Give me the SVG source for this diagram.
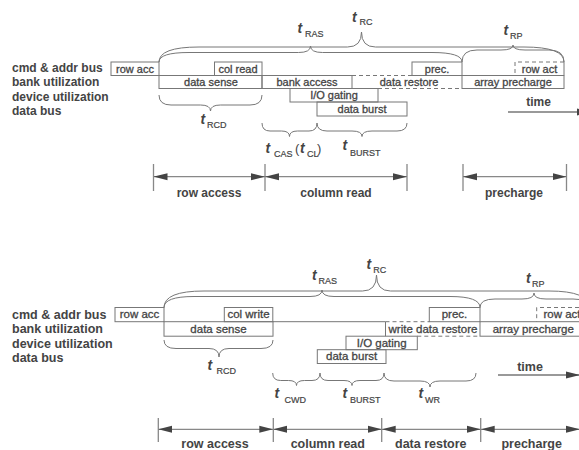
<svg xmlns="http://www.w3.org/2000/svg" width="579" height="450" viewBox="0 0 579 450">
  <defs>
    <style>
      .lbl { font-family: "Liberation Sans", Arial, sans-serif; font-weight: bold; font-size: 12px; fill: #444; }
      .lbl2 { font-family: "Liberation Sans", Arial, sans-serif; font-weight: bold; font-size: 12.5px; fill: #444; }
      .span { font-family: "Liberation Sans", Arial, sans-serif; font-weight: bold; font-size: 12px; fill: #444; text-anchor: middle; }
      .span2 { font-family: "Liberation Sans", Arial, sans-serif; font-weight: bold; font-size: 12.5px; fill: #444; text-anchor: middle; }
      .bt { font-family: "Liberation Sans", Arial, sans-serif; font-size: 11px; fill: #444; stroke: #444; stroke-width: 0.3; text-anchor: middle; }
      .bt2 { font-family: "Liberation Sans", Arial, sans-serif; font-size: 11.5px; fill: #444; stroke: #444; stroke-width: 0.3; text-anchor: middle; }
      .t { font-family: "Liberation Sans", Arial, sans-serif; font-weight: bold; font-style: italic; font-size: 14px; fill: #444; }
      .sub { font-family: "Liberation Sans", Arial, sans-serif; font-size: 9px; fill: #444; stroke: #444; stroke-width: 0.2; }
      .par { font-family: "Liberation Sans", Arial, sans-serif; font-size: 13px; fill: #444; }
      .box { fill: none; stroke: #777; stroke-width: 1; }
      .dash { fill: none; stroke: #777; stroke-width: 1; stroke-dasharray: 4 3; }
      .brace { fill: none; stroke: #777; stroke-width: 1; }
      .rule { fill: none; stroke: #888; stroke-width: 1.3; }
      .arr { fill: none; stroke: #888; stroke-width: 1.3; marker-start: url(#ah); marker-end: url(#ah); }
      .arr1 { fill: none; stroke: #777; stroke-width: 1.3; marker-end: url(#ah); }
    </style>
    <marker id="ah" viewBox="0 0 14 8" refX="14" refY="4" markerWidth="14" markerHeight="8" markerUnits="userSpaceOnUse" orient="auto-start-reverse">
      <path d="M0,0.5 L14,4 L0,7.5 Z" fill="#444"/>
    </marker>
  </defs>

  <!-- ===================== read cycle ===================== -->
  <g id="read-row-labels">
    <text class="lbl" x="12" y="71.5">cmd &amp; addr bus</text>
    <text class="lbl" x="12" y="86">bank utilization</text>
    <text class="lbl" x="12" y="100.5">device utilization</text>
    <text class="lbl" x="12" y="115">data bus</text>
  </g>

  <g id="read-row-acc">
    <rect class="box" x="111" y="62" width="48" height="13.5"/>
    <text class="bt" x="135" y="72.5">row acc</text>
  </g>
  <g id="read-col-read">
    <rect class="box" x="214.5" y="62" width="47.5" height="13.5"/>
    <text class="bt" x="238" y="72.5">col read</text>
  </g>
  <g id="read-prec">
    <rect class="box" x="412" y="62" width="50" height="13.5"/>
    <text class="bt" x="437" y="72.5">prec.</text>
  </g>
  <g id="read-row-act">
    <path class="dash" d="M564,62 H515 V75.5"/>
    <path class="box" d="M564,62 V75.5"/>
    <text class="bt" x="539.5" y="72.5">row act</text>
  </g>
  <g id="read-data-sense">
    <rect class="box" x="159" y="75.5" width="103" height="13"/>
    <text class="bt" x="211" y="85.5">data sense</text>
  </g>
  <g id="read-bank-access">
    <rect class="box" x="262" y="75.5" width="90" height="13"/>
    <text class="bt" x="307" y="85.5">bank access</text>
  </g>
  <g id="read-data-restore">
    <path class="dash" d="M352,75.5 H412 M378,88.5 H462"/>
    <text class="bt" x="409" y="85.5">data restore</text>
  </g>
  <g id="read-array-precharge">
    <rect class="box" x="462" y="75.5" width="102" height="13"/>
    <text class="bt" x="513" y="85.5">array precharge</text>
  </g>
  <g id="read-io-gating">
    <rect class="box" x="290" y="88.5" width="88" height="13.5"/>
    <text class="bt" x="334" y="99">I/O gating</text>
  </g>
  <g id="read-data-burst">
    <rect class="box" x="317" y="102" width="90" height="14"/>
    <text class="bt" x="362" y="112.5">data burst</text>
  </g>

  <g id="read-timing-braces">
    <!-- tRC -->
    <path class="brace" d="M159,62 Q159,47 199,47 L347.5,47 Q361.5,47 361.5,32 Q361.5,47 375.5,47 L524,47 Q564,47 564,62"/>
    <!-- tRAS -->
    <path class="brace" d="M159,62 Q159,52.5 189,52.5 L298.5,52.5 Q310.5,52.5 310.5,46 Q310.5,52.5 322.5,52.5 L432,52.5 Q462,52.5 462,62"/>
    <!-- tRP -->
    <path class="brace" d="M462,62 Q462,50 477,50 L501,50 Q513,50 513,45 Q513,50 525,50 L549,50 Q564,50 564,62"/>
    <!-- tRCD -->
    <path class="brace" d="M159,95 Q159,105 171,105 L200.5,105 Q210.5,105 210.5,111 Q210.5,105 220.5,105 L250,105 Q262,105 262,95"/>
    <!-- tCAS -->
    <path class="brace" d="M262,123 Q262,131 270,131 L281.5,131 Q289.5,131 289.5,136.5 Q289.5,131 297.5,131 L309,131 Q317,131 317,123"/>
    <!-- tBURST -->
    <path class="brace" d="M317,123 Q317,131 327,131 L352,131 Q362,131 362,136.5 Q362,131 372,131 L397,131 Q407,131 407,123"/>
  </g>

  <g id="read-timing-labels">
    <text class="t" x="352" y="21.5">t</text><text class="sub" x="359.5" y="24.5">RC</text>
    <text class="t" x="297.5" y="33">t</text><text class="sub" x="305" y="36.5">RAS</text>
    <text class="t" x="503.5" y="35">t</text><text class="sub" x="510" y="38.5">RP</text>
    <text class="t" x="200.5" y="124">t</text><text class="sub" x="207" y="128">RCD</text>
    <text class="t" x="265.5" y="153">t</text><text class="sub" x="274" y="156.5">CAS</text>
    <text class="par" x="295" y="153">(</text><text class="t" x="300" y="153">t</text><text class="sub" x="307" y="156.5">CL</text><text class="par" x="317" y="153">)</text>
    <text class="t" x="342.5" y="150">t</text><text class="sub" x="350" y="156">BURST</text>
  </g>

  <g id="read-time-axis">
    <text class="span" x="538.5" y="106">time</text>
    <line class="arr1" x1="508" y1="112" x2="591" y2="112"/>
  </g>

  <g id="read-phases">
    <path class="rule" d="M153.5,164 V191 M265,164 V191 M407,164 V191 M463,164 V191 M566.5,164 V191"/>
    <line class="arr" x1="153.5" y1="176.7" x2="265" y2="176.7"/>
    <line class="arr" x1="265" y1="176.7" x2="407" y2="176.7"/>
    <line class="arr" x1="463" y1="176.7" x2="566.5" y2="176.7"/>
    <text class="span" x="209" y="197">row access</text>
    <text class="span" x="336" y="197">column read</text>
    <text class="span" x="514" y="197">precharge</text>
  </g>

  <!-- ===================== write cycle ===================== -->
  <g id="write-row-labels">
    <text class="lbl2" x="12" y="318.5">cmd &amp; addr bus</text>
    <text class="lbl2" x="12" y="333">bank utilization</text>
    <text class="lbl2" x="12" y="347.5">device utilization</text>
    <text class="lbl2" x="12" y="362">data bus</text>
  </g>

  <g id="write-row-acc">
    <rect class="box" x="115" y="307.5" width="49" height="14.2"/>
    <text class="bt2" x="139.5" y="318.3">row acc</text>
  </g>
  <g id="write-col-write">
    <rect class="box" x="224.3" y="307.5" width="48.5" height="14.2"/>
    <text class="bt2" x="248.5" y="318.3">col write</text>
  </g>
  <g id="write-prec">
    <rect class="box" x="429.3" y="307.5" width="50.7" height="14.2"/>
    <text class="bt2" x="454.5" y="318.3">prec.</text>
  </g>
  <g id="write-row-act">
    <path class="dash" d="M600,307.5 H536.7 V321.7"/>
    <text class="bt2" x="543.5" y="318.3" style="text-anchor:start">row act</text>
  </g>
  <g id="write-data-sense">
    <rect class="box" x="164" y="321.7" width="109" height="14.5"/>
    <text class="bt2" x="218.5" y="332.7">data sense</text>
  </g>
  <g id="write-bank-idle">
    <path class="box" d="M273,321.7 H385.5"/>
  </g>
  <g id="write-data-restore">
    <path class="box" d="M385.5,321.7 V336.2"/>
    <path class="dash" d="M385.5,321.7 H429.3 M417.3,336.2 H480"/>
    <text class="bt2" x="433" y="332.7">write data restore</text>
  </g>
  <g id="write-array-precharge">
    <rect class="box" x="480" y="321.7" width="130" height="14.5"/>
    <text class="bt2" x="492.7" y="332.7" style="text-anchor:start">array precharge</text>
  </g>
  <g id="write-io-gating">
    <rect class="box" x="346" y="336.2" width="71.3" height="13.5"/>
    <text class="bt2" x="381.7" y="346.7">I/O gating</text>
  </g>
  <g id="write-data-burst">
    <rect class="box" x="317.3" y="349.7" width="68.7" height="13.8"/>
    <text class="bt2" x="351.6" y="360.2">data burst</text>
  </g>

  <g id="write-timing-braces">
    <!-- tRC -->
    <path class="brace" d="M164,307.5 Q164,291 204,291 L362.5,291 Q376.5,291 376.5,275 Q376.5,291 390.5,291 L549,291 Q589,291 589,307.5"/>
    <!-- tRAS -->
    <path class="brace" d="M164,307.5 Q164,296.5 194,296.5 L310,296.5 Q322,296.5 322,290 Q322,296.5 334,296.5 L450,296.5 Q480,296.5 480,307.5"/>
    <!-- tRP -->
    <path class="brace" d="M480,307.5 Q480,299 495,299 L522,299 Q534,299 534,293 Q534,299 546,299 L573,299 Q588,299 588,307.5"/>
    <!-- tRCD -->
    <path class="brace" d="M164,340 Q164,348.5 176,348.5 L209,348.5 Q219,348.5 219,357 Q219,348.5 229,348.5 L261,348.5 Q273,348.5 273,340"/>
    <!-- tCWD -->
    <path class="brace" d="M272.7,373 Q272.7,380.5 280.7,380.5 L288.5,380.5 Q296.5,380.5 296.5,385.5 Q296.5,380.5 304.5,380.5 L312,380.5 Q320,380.5 320,373"/>
    <!-- tBURST -->
    <path class="brace" d="M320,373 Q320,380.5 328,380.5 L344,380.5 Q352,380.5 352,385.5 Q352,380.5 360,380.5 L376,380.5 Q384,380.5 384,373"/>
    <!-- tWR -->
    <path class="brace" d="M384,373 Q384,381 394,381 L420,381 Q430,381 430,387 Q430,381 440,381 L466,381 Q476,381 476,373"/>
  </g>

  <g id="write-timing-labels">
    <text class="t" x="366.5" y="268.5">t</text><text class="sub" x="373.3" y="273">RC</text>
    <text class="t" x="312" y="280">t</text><text class="sub" x="318.5" y="284">RAS</text>
    <text class="t" x="526" y="283">t</text><text class="sub" x="532" y="286.5">RP</text>
    <text class="t" x="207.5" y="370">t</text><text class="sub" x="216.5" y="373.5">RCD</text>
    <text class="t" x="274.5" y="398">t</text><text class="sub" x="284.5" y="403">CWD</text>
    <text class="t" x="342.5" y="398">t</text><text class="sub" x="350" y="403">BURST</text>
    <text class="t" x="418.5" y="398">t</text><text class="sub" x="425" y="402.5">WR</text>
  </g>

  <g id="write-time-axis">
    <text class="span2" x="530" y="371">time</text>
    <line class="arr1" x1="498" y1="375" x2="580" y2="375"/>
  </g>

  <g id="write-phases">
    <path class="rule" d="M158.3,418 V442 M273.3,418 V442 M381.7,418 V442 M480.7,418 V442"/>
    <line class="arr" x1="158.3" y1="429.3" x2="273.3" y2="429.3"/>
    <line class="arr" x1="273.3" y1="429.3" x2="381.7" y2="429.3"/>
    <line class="arr" x1="381.7" y1="429.3" x2="480.7" y2="429.3"/>
    <line class="arr" x1="480.7" y1="429.3" x2="580" y2="429.3"/>
    <text class="span2" x="215" y="448">row access</text>
    <text class="span2" x="327.8" y="448">column read</text>
    <text class="span2" x="430.8" y="448">data restore</text>
    <text class="span2" x="531.7" y="448">precharge</text>
  </g>
</svg>
